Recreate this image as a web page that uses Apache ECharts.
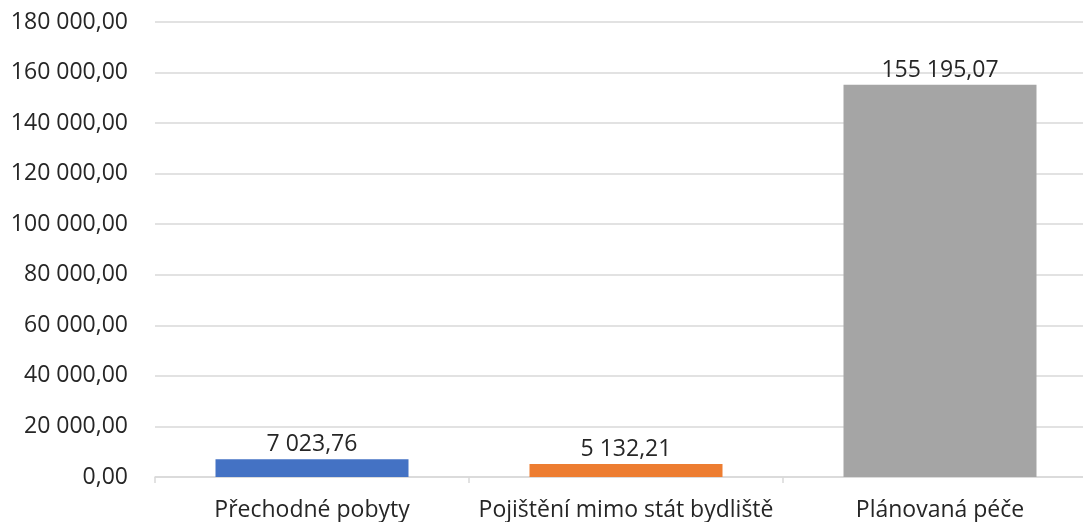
<!DOCTYPE html>
<html><head><meta charset="utf-8">
<script src="https://cdn.jsdelivr.net/npm/echarts@6/dist/echarts.min.js"></script>
<style>html,body{margin:0;padding:0;background:#fff;overflow:hidden}#c{width:1097px;height:522px}</style>
</head><body><div id="c"></div>
<script>
const categories = ["Přechodné pobyty", "Pojištění mimo stát bydliště", "Plánovaná péče"];
const values = [7023.76, 5132.21, 155195.07];
const colors = ["#4472c4", "#ed7d31", "#a5a5a5"];
const yMin = 0, yMax = 180000, yStep = 20000;

function fmt(v) {
  const parts = Number(v).toFixed(2).split(".");
  const int = parts[0].replace(/\B(?=(\d{3})+(?!\d))/g, " ");
  return int + "," + parts[1];
}
const FONT = "Open Sans";
const chart = echarts.init(document.getElementById("c"));
chart.setOption({
  animation: false,
  textStyle: { fontFamily: FONT },
  grid: { left: 155, right: 0, top: 22, bottom: 44.5 },
  xAxis: {
    type: "category", data: categories,
    axisLine: { lineStyle: { color: "#d9d9d9", width: 1.5 } },
    axisTick: { show: true, length: 6, lineStyle: { color: "#d9d9d9", width: 1.5 } },
    axisLabel: { color: "#262626", fontSize: 23, fontFamily: FONT, margin: 22, interval: 0 }
  },
  yAxis: {
    type: "value", min: yMin, max: yMax, interval: yStep,
    axisLine: { show: false }, axisTick: { show: false },
    splitLine: { lineStyle: { color: "#d9d9d9", width: 1.5 } },
    axisLabel: { color: "#262626", fontSize: 23, fontFamily: FONT, margin: 27, formatter: fmt }
  },
  series: [{
    type: "bar", barWidth: 193,
    data: values.map((v, i) => ({ value: v, itemStyle: { color: colors[i] } })),
    label: { show: true, position: "top", distance: 3, color: "#262626", fontSize: 23, fontFamily: FONT, formatter: p => fmt(p.value) }
  }]
});
</script></body></html>
